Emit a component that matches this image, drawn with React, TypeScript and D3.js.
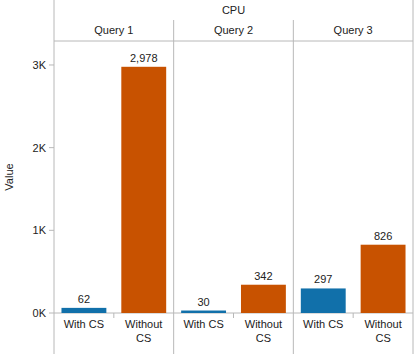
import React, { useEffect, useRef } from "react";
import * as d3 from "d3";

const queries = ["Query 1", "Query 2", "Query 3"];
const modes = ["With CS", "Without CS"];
const withCS = [62, 30, 297];
const withoutCS = [2978, 342, 826];
const yTicks = [0, 1000, 2000, 3000];
const colors = ["#1170aa", "#c85200"];

const App: React.FC = () => {
  const svgRef = useRef<SVGSVGElement>(null);
  const width = 415;
  const height = 354;

  useEffect(() => {
    if (!svgRef.current) return;
    const svg = d3.select(svgRef.current);
    svg.selectAll("*").remove();

    const left = 54;
    const right = 413;
    const headerTop = 20;
    const plotTop = 41;
    const baseline = 313;
    const font = "Liberation Sans, Arial, sans-serif";
    const gridColor = "#b8b8b8";

    const x0 = d3.scaleBand<string>().domain(queries).range([left, right]);
    const x1 = d3
      .scaleBand<string>()
      .domain(modes)
      .range([0, x0.bandwidth()])
      .paddingInner(0.25)
      .paddingOuter(0.125);
    const y = d3.scaleLinear().domain([0, 3290]).range([baseline, plotTop]);

    // header
    svg
      .append("text")
      .attr("x", (left + right) / 2)
      .attr("y", 14)
      .attr("text-anchor", "middle")
      .style("font-family", font)
      .style("font-size", "11px")
      .style("fill", "#222")
      .text("CPU");

    svg
      .append("line")
      .attr("x1", left)
      .attr("x2", right)
      .attr("y1", plotTop)
      .attr("y2", plotTop)
      .attr("stroke", gridColor);

    svg
      .selectAll(".qlabel")
      .data(queries)
      .join("text")
      .attr("x", (d) => x0(d)! + x0.bandwidth() / 2)
      .attr("y", 34)
      .attr("text-anchor", "middle")
      .style("font-family", font)
      .style("font-size", "11px")
      .style("fill", "#222")
      .text((d) => d);

    // panel dividers
    svg
      .selectAll(".divider")
      .data(queries.slice(1))
      .join("line")
      .attr("x1", (d) => x0(d)!)
      .attr("x2", (d) => x0(d)!)
      .attr("y1", headerTop)
      .attr("y2", height)
      .attr("stroke", gridColor);

    // outer frame lines
    [left, right].forEach((xx) => {
      svg
        .append("line")
        .attr("x1", xx)
        .attr("x2", xx)
        .attr("y1", 0)
        .attr("y2", height)
        .attr("stroke", gridColor);
    });

    const yAxis = svg.append("g");
    yAxis
      .selectAll("line")
      .data(yTicks)
      .join("line")
      .attr("x1", left - 5)
      .attr("x2", left)
      .attr("y1", (d) => y(d))
      .attr("y2", (d) => y(d))
      .attr("stroke", gridColor);
    yAxis
      .selectAll("text")
      .data(yTicks)
      .join("text")
      .attr("x", left - 8)
      .attr("y", (d) => y(d))
      .attr("dy", "0.35em")
      .attr("text-anchor", "end")
      .style("font-family", font)
      .style("font-size", "11px")
      .style("fill", "#222")
      .text((d) => `${d / 1000}K`);

    svg
      .append("text")
      .attr("transform", `translate(13, ${(plotTop + baseline) / 2}) rotate(-90)`)
      .attr("text-anchor", "middle")
      .style("font-family", font)
      .style("font-size", "11px")
      .style("fill", "#222")
      .text("Value");

    // baseline
    svg
      .append("line")
      .attr("x1", left)
      .attr("x2", right)
      .attr("y1", baseline)
      .attr("y2", baseline)
      .attr("stroke", gridColor);

    const rows = queries.flatMap((q, i) => [
      { q, mode: modes[0], value: withCS[i], color: colors[0] },
      { q, mode: modes[1], value: withoutCS[i], color: colors[1] },
    ]);

    // bars
    svg
      .selectAll(".bar")
      .data(rows)
      .join("rect")
      .attr("x", (d) => x0(d.q)! + x1(d.mode)!)
      .attr("y", (d) => y(d.value))
      .attr("width", x1.bandwidth())
      .attr("height", (d) => baseline - y(d.value))
      .attr("fill", (d) => d.color);

    svg
      .selectAll(".val")
      .data(rows)
      .join("text")
      .attr("x", (d) => x0(d.q)! + x1(d.mode)! + x1.bandwidth() / 2)
      .attr("y", (d) => y(d.value) - 5)
      .attr("text-anchor", "middle")
      .style("font-family", font)
      .style("font-size", "11px")
      .style("fill", "#222")
      .text((d) => d3.format(",")(d.value));

    // small ticks between the two bars of each panel
    svg
      .selectAll(".mtick")
      .data(queries)
      .join("line")
      .attr("x1", (d) => x0(d)! + x0.bandwidth() / 2)
      .attr("x2", (d) => x0(d)! + x0.bandwidth() / 2)
      .attr("y1", baseline)
      .attr("y2", baseline + 5)
      .attr("stroke", gridColor);

    // category labels
    const cat = svg
      .selectAll(".cat")
      .data(rows)
      .join("text")
      .attr("x", (d) => x0(d.q)! + x1(d.mode)! + x1.bandwidth() / 2)
      .attr("y", 328)
      .attr("text-anchor", "middle")
      .style("font-family", font)
      .style("font-size", "11px")
      .style("fill", "#222");
    cat
      .selectAll("tspan")
      .data((d) => (d.mode === "Without CS" ? ["Without", "CS"] : [d.mode]))
      .join("tspan")
      .attr("x", function () {
        return (this.parentNode as SVGTextElement).getAttribute("x");
      })
      .attr("dy", (d, i) => (i === 0 ? 0 : 14))
      .text((d) => d);
  }, []);

  return (
    <svg
      ref={svgRef}
      width={width}
      height={height}
      style={{ position: "absolute", left: 0, top: 0, background: "#fff" }}
    ></svg>
  );
};

export default App;
